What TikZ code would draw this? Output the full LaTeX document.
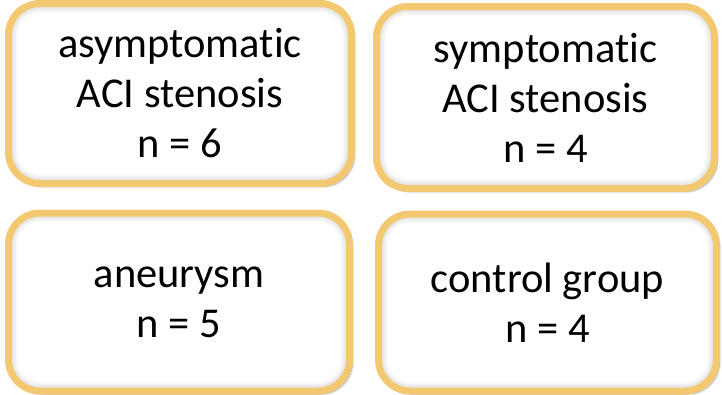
\documentclass[tikz,border=0pt]{standalone}
\usepackage{fontspec}
\setmainfont[Ligatures=NoCommon,RawFeature={-liga;-dlig}]{Carlito}
\usetikzlibrary{shadows.blur}
\definecolor{goldline}{RGB}{242,200,112}
\begin{document}
\begin{tikzpicture}[x=1pt,y=-1pt,
  card/.style={rectangle, draw=goldline, line width=7pt, fill=white,
    rounded corners=31.5pt, inner sep=0pt, align=center,
    font=\fontsize{42.5}{50}\selectfont,
    path picture={
      \foreach \w in {18,15,12,10}{
        \draw[black, opacity=0.025, line width=\w pt, rounded corners=31.5pt]
          (path picture bounding box.south west) rectangle
          (path picture bounding box.north east);}
    },
    blur shadow={shadow xshift=3pt, shadow yshift=-3pt, shadow blur steps=8,
      shadow blur extra rounding=4pt, shadow opacity=35}}]
\useasboundingbox (0,0) rectangle (722,394);
\node[card, minimum width=343pt, minimum height=180pt] (b1) at (180,93.5)
  {asymptomatic\\ACI stenosis\\n = 6};
\node[card, minimum width=338pt, minimum height=182pt] (b2) at (545.5,97.5)
  {symptomatic\\ACI stenosis\\n = 4};
\node[card, minimum width=341pt, minimum height=178pt] (b3) at (179,302)
  {aneurysm\\n = 5};
\node[card, minimum width=338pt, minimum height=177pt] (b4) at (547.5,302.5)
  {control group\\n = 4};
\end{tikzpicture}
\end{document}
